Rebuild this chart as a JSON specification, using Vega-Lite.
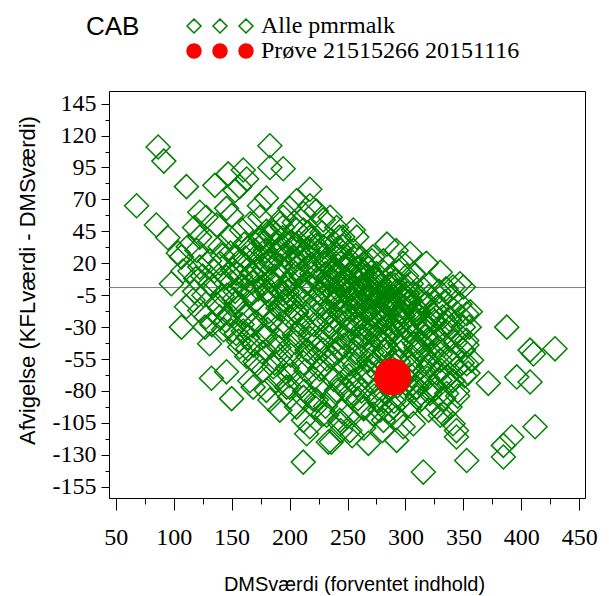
{
"$schema": "https://vega.github.io/schema/vega-lite/v6.json",
"width": 476,
"height": 407,
"autosize": "none",
"padding": {"left": 109, "top": 91, "right": 24, "bottom": 98},
"background": "white",
"config": {"view": {"stroke": "black", "strokeWidth": 1}},
"resolve": {"axis": {"x": "independent", "y": "independent"}},
"datasets": {
"ref": [{"y": 1}],
"leg": [{"s": "Alle pmrmalk", "x": 289, "y": -69}, {"s": "Prøve 21515266 20151116", "x": 289, "y": -69}],
"prove": [{"x": 289, "y": -69}],
"alle": [
{"x":86.6,"y":111},{"x":91.5,"y":100},{"x":183,"y":112},{"x":183,"y":95},{"x":194.5,"y":94},{"x":111,"y":80},{"x":135.5,"y":81},{"x":147,"y":90},{"x":160,"y":93},{"x":163,"y":86},{"x":157,"y":80},{"x":153,"y":77},{"x":217.5,"y":78},{"x":180,"y":71},{"x":174,"y":65},{"x":206,"y":69},{"x":223,"y":61},{"x":217.5,"y":65},{"x":68,"y":65},{"x":85,"y":50},{"x":95,"y":40},{"x":104,"y":28},{"x":98,"y":4},{"x":112.5,"y":33},{"x":122.5,"y":60},{"x":128,"y":56},{"x":145.6,"y":63},{"x":150,"y":57.5},{"x":137,"y":50},{"x":118,"y":48},{"x":122.5,"y":40.5},{"x":131,"y":37},{"x":140,"y":33},{"x":148.5,"y":40.5},{"x":158.5,"y":46},{"x":166,"y":51},{"x":174.4,"y":56},{"x":194.5,"y":56},{"x":191.6,"y":51},{"x":200,"y":63},{"x":212,"y":59},{"x":229,"y":54},{"x":240.6,"y":48},{"x":246,"y":40.5},{"x":120,"y":30},{"x":114,"y":14},{"x":122.5,"y":17},{"x":131,"y":22},{"x":140,"y":20},{"x":106.7,"y":25},{"x":108,"y":14},{"x":131,"y":4},{"x":145.6,"y":9},{"x":154,"y":25},{"x":165.7,"y":33},{"x":174.4,"y":38},{"x":183,"y":43},{"x":206,"y":46},{"x":217.5,"y":40.5},{"x":229,"y":33},{"x":194.5,"y":33},{"x":203,"y":25},{"x":217.5,"y":25},{"x":232,"y":20},{"x":246,"y":25},
{"x":235,"y":56},{"x":255,"y":46},{"x":258,"y":40.5},{"x":284,"y":35},{"x":292,"y":30},{"x":304,"y":27.5},{"x":318,"y":20},{"x":330,"y":13},{"x":347,"y":4},{"x":341,"y":1.4},{"x":272,"y":25},{"x":281,"y":22},{"x":298,"y":20},{"x":307,"y":12},{"x":243,"y":40.5},{"x":246,"y":33},{"x":264,"y":20},
{"x":106.7,"y":-30},{"x":131,"y":-43},{"x":132.6,"y":-70},{"x":145.6,"y":-65},{"x":150,"y":-86},{"x":116.8,"y":-9},{"x":122.5,"y":-17},{"x":111,"y":-14},{"x":128,"y":-22},{"x":139.8,"y":-22},{"x":137,"y":-12},{"x":157,"y":-45.6},{"x":163,"y":-53},{"x":165.7,"y":-72},{"x":168.6,"y":-77},{"x":160,"y":-33},{"x":154,"y":-35},{"x":183,"y":-87},{"x":191.6,"y":-95},{"x":180,"y":-79.5},{"x":200,"y":-85},{"x":212,"y":-103},{"x":217.5,"y":-108},{"x":214.7,"y":-113.5},{"x":233.4,"y":-120},{"x":211.8,"y":-135.7},{"x":243.4,"y":-105.6},{"x":229,"y":-98},{"x":206,"y":-92.6},{"x":223,"y":-87},{"x":240.6,"y":-79.5},{"x":177,"y":-64},{"x":188.7,"y":-72},{"x":197.4,"y":-77},{"x":171.5,"y":-59},
{"x":387.4,"y":-30},{"x":407.5,"y":-48},{"x":410.4,"y":-51},{"x":429,"y":-47},{"x":371.5,"y":-74},{"x":396,"y":-69},{"x":407.5,"y":-73},{"x":411.8,"y":-108},{"x":391.7,"y":-116},{"x":384.5,"y":-122.6},{"x":384.5,"y":-131.7},{"x":352.8,"y":-134.4},{"x":315.4,"y":-143.5},{"x":268,"y":-121},{"x":236,"y":-120},{"x":292.4,"y":-118.7},{"x":298,"y":-108},{"x":306.8,"y":-105.6},{"x":281,"y":-103},{"x":344,"y":-111},{"x":344,"y":-116},{"x":341,"y":-105.6},{"x":332.7,"y":-98},{"x":327,"y":-92.6},{"x":338.4,"y":-92.6},{"x":350,"y":1.4},{"x":352.8,"y":-19.5},{"x":350,"y":-30},{"x":352.8,"y":-40.4},{"x":352.8,"y":-58.7},{"x":335.5,"y":-69},{"x":329.8,"y":-71.7},{"x":335.5,"y":-82},{"x":321,"y":-79.5},{"x":309.6,"y":-77},{"x":312.5,"y":-87.4},{"x":289.5,"y":-92.6},{"x":278,"y":-95},{"x":272,"y":-98},{"x":252,"y":-111},{"x":243.4,"y":-103},{"x":263.6,"y":-92.6},
{"x":150,"y":5},{"x":152,"y":-8},{"x":148,"y":-20},{"x":151,"y":15},{"x":149,"y":28},{"x":153,"y":-2},
{"x":158,"y":10},{"x":156,"y":-14},{"x":160,"y":2},{"x":157,"y":22},{"x":159,"y":-28},{"x":161,"y":35},
{"x":165,"y":-4},{"x":167,"y":12},{"x":163,"y":-20},{"x":166,"y":30},{"x":164,"y":-38},{"x":168,"y":5},{"x":162,"y":18},
{"x":172,"y":8},{"x":170,"y":-10},{"x":174,"y":24},{"x":171,"y":-26},{"x":173,"y":0},{"x":175,"y":40},{"x":169,"y":-44},{"x":172,"y":14},
{"x":180,"y":-2},{"x":178,"y":16},{"x":182,"y":-18},{"x":179,"y":30},{"x":181,"y":-32},{"x":183,"y":6},{"x":177,"y":-50},{"x":180,"y":45},{"x":184,"y":22},
{"x":187,"y":10},{"x":185,"y":-8},{"x":189,"y":2},{"x":186,"y":-24},{"x":188,"y":36},{"x":190,"y":-40},{"x":184,"y":20},{"x":187,"y":-58},{"x":191,"y":28},
{"x":194,"y":-4},{"x":196,"y":14},{"x":192,"y":-16},{"x":195,"y":26},{"x":193,"y":-30},{"x":197,"y":4},{"x":191,"y":-46},{"x":194,"y":40},{"x":198,"y":-62},{"x":192,"y":18},{"x":196,"y":-10},
{"x":201,"y":6},{"x":199,"y":-12},{"x":203,"y":20},{"x":200,"y":-22},{"x":202,"y":32},{"x":204,"y":-36},{"x":198,"y":-2},{"x":201,"y":-52},{"x":205,"y":12},{"x":200,"y":-68},
{"x":208,"y":-6},{"x":210,"y":10},{"x":206,"y":-18},{"x":209,"y":24},{"x":207,"y":-28},{"x":211,"y":2},{"x":205,"y":-42},{"x":208,"y":36},{"x":212,"y":-58},{"x":206,"y":16},{"x":209,"y":-74},
{"x":215,"y":4},{"x":213,"y":-10},{"x":217,"y":18},{"x":214,"y":-22},{"x":216,"y":30},{"x":218,"y":-34},{"x":212,"y":-2},{"x":215,"y":-48},{"x":219,"y":12},{"x":214,"y":-64},{"x":216,"y":44},{"x":213,"y":-80},
{"x":222,"y":-8},{"x":224,"y":8},{"x":220,"y":-16},{"x":223,"y":22},{"x":221,"y":-28},{"x":225,"y":-40},{"x":219,"y":2},{"x":222,"y":-54},{"x":226,"y":14},{"x":221,"y":-70},{"x":223,"y":34},{"x":220,"y":-86},
{"x":229,"y":0},{"x":227,"y":-12},{"x":231,"y":12},{"x":228,"y":-24},{"x":230,"y":26},{"x":232,"y":-36},{"x":226,"y":-4},{"x":229,"y":-48},{"x":233,"y":8},{"x":228,"y":-62},{"x":230,"y":20},{"x":227,"y":-76},{"x":231,"y":-92},
{"x":236,"y":-6},{"x":238,"y":6},{"x":234,"y":-18},{"x":237,"y":16},{"x":235,"y":-30},{"x":239,"y":-42},{"x":233,"y":2},{"x":236,"y":-54},{"x":240,"y":28},{"x":235,"y":-68},{"x":237,"y":-84},{"x":234,"y":10},{"x":238,"y":-22},
{"x":243,"y":-2},{"x":241,"y":-14},{"x":245,"y":10},{"x":242,"y":-26},{"x":244,"y":20},{"x":246,"y":-38},{"x":240,"y":-50},{"x":243,"y":4},{"x":247,"y":-62},{"x":242,"y":32},{"x":244,"y":-74},{"x":241,"y":-8},{"x":245,"y":-96},
{"x":250,"y":2},{"x":248,"y":-10},{"x":252,"y":12},{"x":249,"y":-20},{"x":251,"y":-32},{"x":253,"y":22},{"x":247,"y":-44},{"x":250,"y":-4},{"x":254,"y":-56},{"x":249,"y":8},{"x":251,"y":-68},{"x":248,"y":-16},{"x":252,"y":-82},{"x":250,"y":-100},
{"x":257,"y":-6},{"x":259,"y":6},{"x":255,"y":-16},{"x":258,"y":16},{"x":256,"y":-28},{"x":260,"y":-38},{"x":254,"y":0},{"x":257,"y":-50},{"x":261,"y":10},{"x":256,"y":-60},{"x":258,"y":-22},{"x":255,"y":-72},{"x":259,"y":-86},{"x":257,"y":26},
{"x":264,"y":0},{"x":262,"y":-12},{"x":266,"y":10},{"x":263,"y":-22},{"x":265,"y":-34},{"x":267,"y":4},{"x":261,"y":-44},{"x":264,"y":-8},{"x":268,"y":-56},{"x":263,"y":14},{"x":265,"y":-68},{"x":262,"y":-80},{"x":266,"y":-30},{"x":264,"y":-94},
{"x":271,"y":-4},{"x":273,"y":8},{"x":269,"y":-16},{"x":272,"y":-28},{"x":270,"y":2},{"x":274,"y":-38},{"x":268,"y":-10},{"x":271,"y":-50},{"x":275,"y":12},{"x":270,"y":-60},{"x":272,"y":-20},{"x":269,"y":-72},{"x":273,"y":-84},{"x":271,"y":22},
{"x":278,"y":2},{"x":276,"y":-10},{"x":280,"y":-20},{"x":277,"y":6},{"x":279,"y":-32},{"x":281,"y":-44},{"x":275,"y":-4},{"x":278,"y":-54},{"x":282,"y":-14},{"x":277,"y":-66},{"x":279,"y":-26},{"x":276,"y":-78},{"x":280,"y":14},{"x":278,"y":-90},
{"x":285,"y":-6},{"x":287,"y":4},{"x":283,"y":-16},{"x":286,"y":-28},{"x":284,"y":-38},{"x":288,"y":0},{"x":282,"y":-48},{"x":285,"y":-12},{"x":289,"y":-58},{"x":284,"y":-22},{"x":286,"y":-70},{"x":283,"y":-82},{"x":287,"y":10},{"x":285,"y":-96},
{"x":292,"y":-2},{"x":290,"y":-12},{"x":294,"y":-24},{"x":291,"y":6},{"x":293,"y":-34},{"x":295,"y":-44},{"x":289,"y":-8},{"x":292,"y":-54},{"x":296,"y":-18},{"x":291,"y":-64},{"x":293,"y":-76},{"x":290,"y":-88},{"x":294,"y":14},
{"x":299,"y":-8},{"x":301,"y":2},{"x":297,"y":-18},{"x":300,"y":-30},{"x":298,"y":-40},{"x":302,"y":-4},{"x":296,"y":-50},{"x":299,"y":-14},{"x":303,"y":-62},{"x":298,"y":-26},{"x":300,"y":-74},{"x":297,"y":-86},{"x":301,"y":10},
{"x":306,"y":-4},{"x":304,"y":-14},{"x":308,"y":-26},{"x":305,"y":4},{"x":307,"y":-36},{"x":309,"y":-46},{"x":303,"y":-10},{"x":306,"y":-56},{"x":310,"y":-20},{"x":305,"y":-68},{"x":307,"y":-80},{"x":304,"y":-92},
{"x":313,"y":-10},{"x":311,"y":-20},{"x":315,"y":0},{"x":312,"y":-32},{"x":314,"y":-42},{"x":316,"y":-52},{"x":310,"y":-16},{"x":313,"y":-62},{"x":317,"y":-28},{"x":312,"y":-74},{"x":314,"y":-86},
{"x":320,"y":-6},{"x":322,"y":-18},{"x":318,"y":-30},{"x":321,"y":4},{"x":319,"y":-40},{"x":323,"y":-50},{"x":317,"y":-12},{"x":320,"y":-60},{"x":324,"y":-24},{"x":319,"y":-70},{"x":321,"y":-82},
{"x":327,"y":-14},{"x":325,"y":-26},{"x":329,"y":-2},{"x":326,"y":-36},{"x":328,"y":-46},{"x":330,"y":-56},{"x":324,"y":-20},{"x":327,"y":-66},{"x":331,"y":-32},{"x":326,"y":-78},
{"x":334,"y":-10},{"x":332,"y":-22},{"x":336,"y":-34},{"x":333,"y":-44},{"x":335,"y":0},{"x":337,"y":-54},{"x":331,"y":-64},{"x":334,"y":-28},{"x":338,"y":-74},{"x":333,"y":-86},
{"x":341,"y":-16},{"x":339,"y":-30},{"x":343,"y":-42},{"x":340,"y":-6},{"x":342,"y":-52},{"x":344,"y":-62},{"x":338,"y":-24},{"x":341,"y":-72},{"x":345,"y":-84},
{"x":348,"y":-22},{"x":346,"y":-36},{"x":350,"y":-48},{"x":347,"y":-12},{"x":349,"y":-58},{"x":351,"y":-68},{"x":345,"y":-80},
{"x":355,"y":-30},{"x":353,"y":-44},{"x":357,"y":-56},{"x":354,"y":-66},{"x":356,"y":-18},
{"x":238,"y":-3},{"x":241,"y":-9},{"x":247,"y":-1},{"x":253,"y":-7},{"x":256,"y":-13},{"x":261,"y":-3},{"x":266,"y":-17},{"x":269,"y":-7},{"x":273,"y":-21},{"x":276,"y":-11},{"x":281,"y":-25},{"x":284,"y":-1},{"x":289,"y":-15},{"x":244,"y":-19},{"x":250,"y":-25},{"x":259,"y":-29},{"x":263,"y":-37},{"x":270,"y":-33},{"x":277,"y":-39},{"x":287,"y":-35},{"x":293,"y":-29},{"x":298,"y":-21},{"x":302,"y":-33},{"x":308,"y":-43},{"x":296,"y":-45},{"x":282,"y":-49},{"x":268,"y":-45},{"x":254,"y":-41},{"x":240,"y":-33},{"x":234,"y":-25},{"x":230,"y":-15},{"x":226,"y":-3},{"x":233,"y":5},{"x":239,"y":11},{"x":245,"y":3},{"x":260,"y":6},{"x":266,"y":2},{"x":272,"y":-1},{"x":279,"y":-5},{"x":285,"y":-9},{"x":291,"y":3},{"x":297,"y":-3},{"x":303,"y":-11},{"x":309,"y":-19},{"x":315,"y":-27},{"x":318,"y":-37},{"x":312,"y":-47},{"x":325,"y":-43},{"x":330,"y":-51},{"x":322,"y":-59},{"x":316,"y":-65},{"x":305,"y":-61},{"x":294,"y":-57},{"x":286,"y":-63},{"x":275,"y":-57},{"x":262,"y":-53},{"x":252,"y":-59},{"x":242,"y":-47},{"x":232,"y":-55},{"x":224,"y":-47},{"x":218,"y":-39},{"x":212,"y":-29},{"x":206,"y":-19},{"x":200,"y":-9},{"x":196,"y":1},{"x":190,"y":-15},{"x":184,"y":-25},{"x":178,"y":-37},{"x":184,"y":-45},{"x":192,"y":-53},{"x":200,"y":-45},{"x":208,"y":-37},{"x":216,"y":-53},{"x":226,"y":-63},{"x":238,"y":-71},{"x":248,"y":-79},{"x":258,"y":-75},{"x":268,"y":-65},{"x":276,"y":-87},{"x":288,"y":-77},{"x":300,"y":-69},{"x":310,"y":-85},{"x":320,"y":-95},{"x":330,"y":-99},{"x":292,"y":-101},{"x":280,"y":-111},{"x":264,"y":-109},{"x":254,"y":-115},{"x":244,"y":-111},{"x":232,"y":-99},{"x":222,"y":-93},{"x":212,"y":-85},{"x":200,"y":-77},{"x":192,"y":-69},{"x":186,"y":-61},{"x":170,"y":-57},{"x":164,"y":-47},{"x":156,"y":-41},{"x":150,"y":-33},{"x":145,"y":-25},{"x":140,"y":-15},{"x":146,"y":-5},{"x":154,"y":-11},{"x":162,"y":-21},{"x":168,"y":-29},{"x":176,"y":-15},{"x":182,"y":-5},{"x":188,"y":3},{"x":176,"y":5},{"x":168,"y":-3},{"x":160,"y":2},{"x":154,"y":12},{"x":162,"y":24},{"x":170,"y":30},{"x":178,"y":36},{"x":186,"y":44},{"x":194,"y":48},{"x":204,"y":52},{"x":212,"y":46},{"x":220,"y":40},{"x":228,"y":44},{"x":236,"y":38},{"x":244,"y":30},{"x":224,"y":28},{"x":216,"y":32},{"x":208,"y":28},{"x":200,"y":36},{"x":192,"y":30},{"x":184,"y":24},{"x":176,"y":18},{"x":168,"y":12},
{"x":118,"y":-2},{"x":119,"y":8},{"x":126,"y":-5},{"x":125,"y":10},{"x":127,"y":-30},{"x":134,"y":2},{"x":133,"y":-28},{"x":135,"y":14},{"x":142,"y":-6},{"x":141,"y":8},{"x":143,"y":-32},{"x":142,"y":26},
{"x":240,"y":15},{"x":246,"y":22},{"x":252,"y":18},{"x":258,"y":12},{"x":262,"y":24},{"x":268,"y":16},{"x":274,"y":8},{"x":255,"y":30},{"x":248,"y":8}
]
},
"layer": [
{
"data": {"name": "leg"},
"mark": {"type": "point", "size": 196, "opacity": 0, "strokeWidth": 1.5},
"encoding": {
"x": {"field": "x", "type": "quantitative", "axis": null},
"y": {"field": "y", "type": "quantitative", "axis": null},
"shape": {"field": "s", "type": "nominal",
"scale": {"domain": ["Alle pmrmalk", "Prøve 21515266 20151116"], "range": ["M-4.714,0L-3.714,-1L-2.714,0L-3.714,1Z M-1,0L0,-1L1,0L0,1Z M2.714,0L3.714,-1L4.714,0L3.714,1Z", "M-2.714,0A1,1,0,1,1,-4.714,0A1,1,0,1,1,-2.714,0Z M1,0A1,1,0,1,1,-1,0A1,1,0,1,1,1,0Z M4.714,0A1,1,0,1,1,2.714,0A1,1,0,1,1,4.714,0Z"]},
"legend": {"title": "CAB", "titleOrient": "left", "titleAnchor": "start", "titleFont": "Liberation Sans", "titleFontSize": 26, "titleFontWeight": "normal", "titleColor": "black", "titlePadding": 68, "titleBaseline": "top",
"orient": "none", "legendX": -23, "legendY": -77, "padding": 0, "offset": 0,
"symbolSize": 196, "symbolStrokeWidth": 1.5, "symbolOpacity": 1, "labelFont": "Liberation Serif", "labelFontSize": 24, "labelColor": "black", "labelOffset": 29, "labelLimit": 400, "rowPadding": 1}},
"fill": {"field": "s", "type": "nominal",
"scale": {"domain": ["Alle pmrmalk", "Prøve 21515266 20151116"], "range": ["transparent", "#ff0000"]},
"legend": {"title": "CAB", "titleOrient": "left", "titleAnchor": "start", "titleFont": "Liberation Sans", "titleFontSize": 26, "titleFontWeight": "normal", "titleColor": "black", "titlePadding": 68, "titleBaseline": "top",
"orient": "none", "legendX": -23, "legendY": -77, "padding": 0, "offset": 0,
"symbolSize": 196, "symbolStrokeWidth": 1.5, "symbolOpacity": 1, "labelFont": "Liberation Serif", "labelFontSize": 24, "labelColor": "black", "labelOffset": 29, "labelLimit": 400, "rowPadding": 1}},
"stroke": {"field": "s", "type": "nominal",
"scale": {"domain": ["Alle pmrmalk", "Prøve 21515266 20151116"], "range": ["#008000", "#ff0000"]},
"legend": {"title": "CAB", "titleOrient": "left", "titleAnchor": "start", "titleFont": "Liberation Sans", "titleFontSize": 26, "titleFontWeight": "normal", "titleColor": "black", "titlePadding": 68, "titleBaseline": "top",
"orient": "none", "legendX": -23, "legendY": -77, "padding": 0, "offset": 0,
"symbolSize": 196, "symbolStrokeWidth": 1.5, "symbolOpacity": 1, "labelFont": "Liberation Serif", "labelFontSize": 24, "labelColor": "black", "labelOffset": 29, "labelLimit": 400, "rowPadding": 1}}
}
},
{
"data": {"name": "ref"},
"mark": {"type": "rule", "color": "#808080", "strokeWidth": 1},
"encoding": {"y": {"field": "y", "type": "quantitative", "axis": null}}
},
{
"data": {"name": "alle"},
"mark": {"type": "point", "shape": "diamond", "filled": false, "color": "#008000", "size": 576, "strokeWidth": 1.5, "opacity": 1},
"encoding": {
"x": {"field": "x", "type": "quantitative",
"scale": {"domain": [44.2, 454.9], "nice": false, "zero": false},
"axis": {"orient": "bottom", "title": "DMSværdi (forventet indhold)", "values": [50,100,150,200,250,300,350,400,450],
"domain": false, "grid": false, "tickColor": "black", "tickWidth": 1, "tickSize": 12,
"labelExpr": "'' + datum.value",
"labelFont": "Liberation Serif", "labelFontSize": 24, "labelColor": "black", "labelPadding": 15, "labelOverlap": false, "labelFlush": false, "labelBound": false,
"titleFont": "Liberation Sans", "titleFontSize": 20, "titleFontWeight": "normal", "titleColor": "black", "titleX": 245, "titleY": 92, "titleBaseline": "alphabetic"}},
"y": {"field": "y", "type": "quantitative",
"scale": {"domain": [-163.8, 154.9], "nice": false, "zero": false},
"axis": {"orient": "left", "title": "Afvigelse (KFLværdi - DMSværdi)", "values": [-155,-130,-105,-80,-55,-30,-5,20,45,70,95,120,145],
"domain": false, "grid": false, "tickColor": "black", "tickWidth": 1, "tickSize": 8,
"labelExpr": "'' + datum.value",
"labelFont": "Liberation Serif", "labelFontSize": 24, "labelColor": "black", "labelPadding": 5, "labelOverlap": false, "labelFlush": false, "labelBound": false,
"titleFont": "Liberation Sans", "titleFontSize": 22, "titleFontWeight": "normal", "titleColor": "black", "titleX": -75, "titleY": 189, "titleBaseline": "alphabetic", "titleAngle": -90}}
}
},
{
"data": {"name": "prove"},
"mark": {"type": "point", "shape": "circle", "filled": true, "color": "#ff0000", "size": 1370, "opacity": 1, "strokeWidth": 0},
"encoding": {
"x": {"field": "x", "type": "quantitative",
"axis": {"orient": "bottom", "title": null, "values": [75,125,175,225,275,325,375,425], "labels": false, "domain": false, "grid": false, "tickColor": "black", "tickWidth": 1, "tickSize": 6}},
"y": {"field": "y", "type": "quantitative",
"axis": {"orient": "left", "title": null, "values": [-142.5,-117.5,-92.5,-67.5,-42.5,-17.5,7.5,32.5,57.5,82.5,107.5,132.5], "labels": false, "domain": false, "grid": false, "tickColor": "black", "tickWidth": 1, "tickSize": 4}}
}
}
]
}
